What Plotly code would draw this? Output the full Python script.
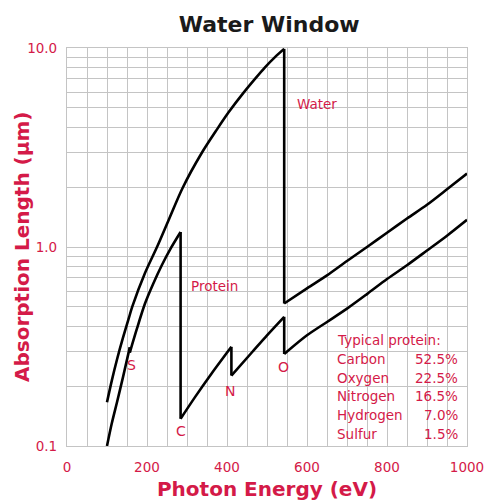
import math
import plotly.graph_objects as go

# ---- data ----
water_energy = [100, 112, 125, 140, 154, 163, 195, 225, 255, 289, 336, 375, 404, 441, 470, 495, 520, 543,
                543, 600, 650, 700, 750, 800, 850, 900, 950, 1000]
water_length = [0.166, 0.213, 0.272, 0.35, 0.435, 0.5, 0.74, 1.0, 1.38, 1.98, 2.95, 3.9, 4.75, 5.95, 7.0, 8.0, 9.0, 9.9,
                0.52, 0.62, 0.72, 0.85, 1.0, 1.18, 1.39, 1.63, 1.95, 2.34]

protein_energy = [100, 112, 125, 140, 157, 157, 175, 195, 215, 237, 260, 284,
                  284, 320, 362, 411, 411, 462, 500, 543,
                  543, 600, 650, 700, 750, 800, 850, 900, 950, 1000]
protein_length = [0.1, 0.13, 0.166, 0.222, 0.313, 0.295, 0.39, 0.52, 0.65, 0.81, 0.99, 1.19,
                  0.137, 0.176, 0.232, 0.315, 0.226, 0.295, 0.36, 0.446,
                  0.29, 0.36, 0.42, 0.49, 0.58, 0.69, 0.81, 0.96, 1.14, 1.37]

edge_labels = ["S", "C", "N", "O"]
edge_label_energy = [161, 286, 408, 541]
edge_label_length = [0.255, 0.119, 0.19, 0.25]

protein_elements = ["Carbon", "Oxygen", "Nitrogen", "Hydrogen", "Sulfur"]
protein_percent = ["52.5%", "22.5%", "16.5%", "7.0%", "1.5%"]

x_ticks = [0, 200, 400, 600, 800, 1000]
y_ticks = [0.1, 1, 10]
y_tick_text = ["0.1", "1.0", "10.0"]
y_minor = [0.2, 0.3, 0.4, 0.5, 0.6, 0.7, 0.8, 0.9, 2, 3, 4, 5, 6, 7, 8, 9]

# ---- style ----
RED = "#d41a48"
GRID = "#c4c4c4"
FONT = "DejaVu Sans"
SMALL = 13.5


def segments(xs, ys):
    """Split a curve at absorption edges (repeated energy) into smooth pieces."""
    segs, cx, cy = [], [xs[0]], [ys[0]]
    for i in range(1, len(xs)):
        if xs[i] == xs[i - 1]:
            segs.append((cx, cy))
            segs.append(([xs[i - 1], xs[i]], [ys[i - 1], ys[i]]))
            cx, cy = [xs[i]], [ys[i]]
        else:
            cx.append(xs[i])
            cy.append(ys[i])
    segs.append((cx, cy))
    return segs


fig = go.Figure()
for xs, ys in [(water_energy, water_length), (protein_energy, protein_length)]:
    for sx, sy in segments(xs, ys):
        fig.add_trace(go.Scatter(x=sx, y=sy, mode="lines",
                                 line=dict(color="black", width=2.6,
                                           shape="spline" if len(sx) > 2 else "linear",
                                           smoothing=0.8),
                                 hoverinfo="skip"))

# white box behind the composition table (covers grid, under traces)
fig.add_shape(type="rect", xref="x", yref="paper", x0=653, x1=1000, y0=0, y1=0.305,
              fillcolor="white", line=dict(width=0), layer="between")

small_font = dict(size=SMALL, color=RED, family=FONT)
ann = []
ann.append(dict(x=571, y=math.log10(5.25), xref="x", yref="y", text="Water", showarrow=False,
                xanchor="left", yanchor="middle", font=small_font))
ann.append(dict(x=306, y=math.log10(0.64), xref="x", yref="y", text="Protein", showarrow=False,
                xanchor="left", yanchor="middle", font=small_font))
for lab, ex, ey in zip(edge_labels, edge_label_energy, edge_label_length):
    ann.append(dict(x=ex, y=math.log10(ey), xref="x", yref="y", text=lab, showarrow=False,
                    xanchor="center", yanchor="middle", font=dict(size=14, color=RED, family=FONT)))

row_top = 0.2663
row_step = 0.0472
ann.append(dict(x=670, y=row_top, xref="x", yref="paper", text="Typical protein:", showarrow=False,
                xanchor="left", yanchor="middle", font=small_font))
for i, (el, pc) in enumerate(zip(protein_elements, protein_percent)):
    yy = row_top - (i + 1) * row_step
    ann.append(dict(x=670, y=yy, xref="x", yref="paper", text=el, showarrow=False,
                    xanchor="left", yanchor="middle", font=small_font))
    ann.append(dict(x=983, y=yy, xref="x", yref="paper", text=pc, showarrow=False,
                    xanchor="right", yanchor="middle", font=small_font))

# y-axis title placed as a rotated annotation
ann.append(dict(x=-0.1125, y=0.5, xref="paper", yref="paper", text="<b>Absorption Length (µm)</b>",
                textangle=-90, showarrow=False, xanchor="center", yanchor="middle",
                font=dict(size=20, color=RED, family=FONT)))

fig.update_layout(
    width=485, height=501,
    margin=dict(l=67, r=18, t=48, b=55),
    paper_bgcolor="white", plot_bgcolor="white",
    showlegend=False,
    title=dict(text="<b>Water Window</b>", x=0.555, xanchor="center", y=0.952, yanchor="middle",
               font=dict(size=22, color="#1a1a1a", family=FONT)),
    annotations=ann,
    xaxis=dict(range=[0, 1000], tickvals=x_ticks, showgrid=True, gridcolor=GRID, gridwidth=1.2,
               minor=dict(dtick=50, showgrid=True, gridcolor=GRID, gridwidth=1.2),
               showline=True, linecolor=GRID, linewidth=1.2, mirror=True, zeroline=False,
               ticks="", ticklabelstandoff=9, automargin=False,
               tickfont=dict(size=SMALL, color=RED, family=FONT),
               title=dict(text="<b>Photon Energy (eV)</b>", standoff=13,
                          font=dict(size=20, color=RED, family=FONT))),
    yaxis=dict(type="log", range=[-1, 1], tickvals=y_ticks, ticktext=y_tick_text,
               showgrid=True, gridcolor=GRID, gridwidth=1.2,
               minor=dict(tickvals=y_minor, showgrid=True, gridcolor=GRID, gridwidth=1.2),
               showline=True, linecolor=GRID, linewidth=1.2, mirror=True, zeroline=False,
               ticks="", ticklabelstandoff=6, automargin=False,
               tickfont=dict(size=SMALL, color=RED, family=FONT)),
)

fig.write_html("out.html", config={"displayModeBar": False},
               post_script="document.body.style.margin='0';document.body.style.overflow='hidden';")
